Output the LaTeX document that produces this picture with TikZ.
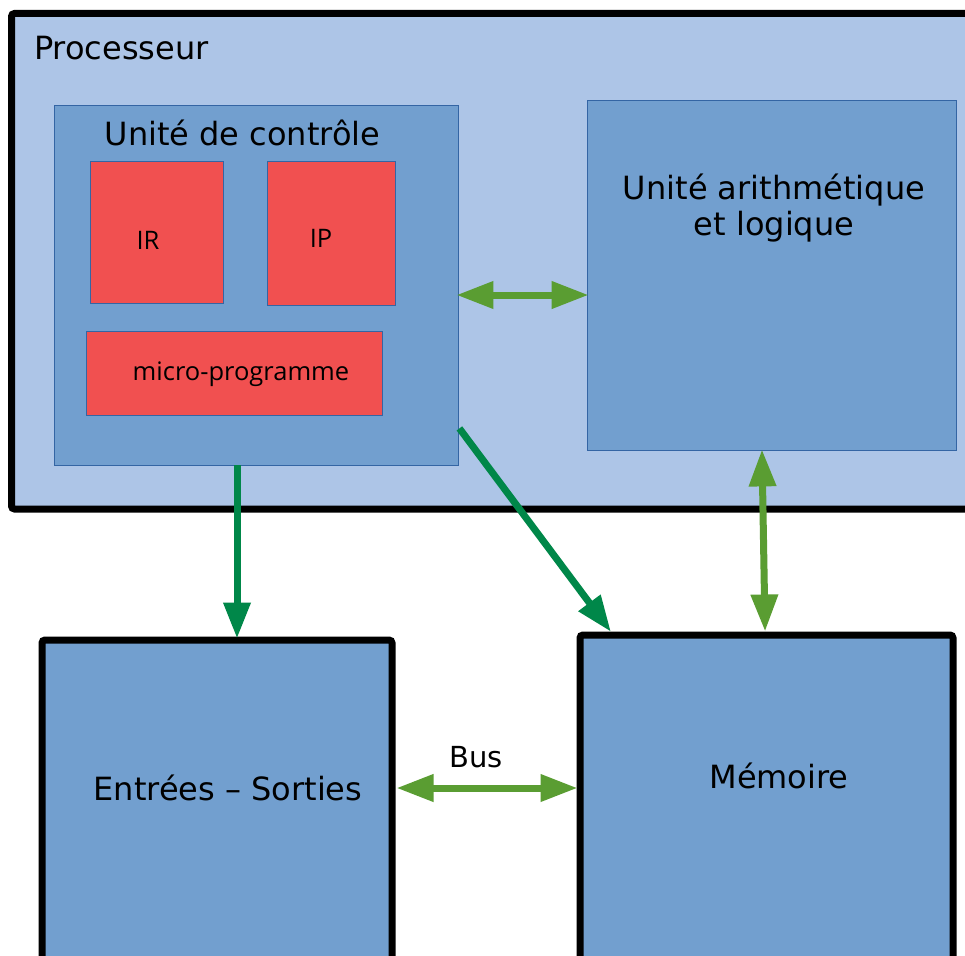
\documentclass[tikz,border=0pt]{standalone}
\usepackage{fontspec}
\setmainfont{DejaVu Sans}
\newfontfamily\regfont{Open Sans}
\usetikzlibrary{arrows.meta,calc}

\definecolor{procfill}{HTML}{ADC5E7}
\definecolor{unitfill}{HTML}{729FCF}
\definecolor{unitline}{HTML}{3465A4}
\definecolor{regfill}{HTML}{F15050}
\definecolor{busgreen}{HTML}{5A9D32}
\definecolor{ctrlgreen}{HTML}{008749}

\tikzset{
  bigbox/.style={draw=black, line width=7pt, fill=unitfill, rounded corners=3pt,
    rectangle, inner sep=0pt},
  unitbox/.style={draw=unitline, line width=0.8pt, fill=unitfill, rectangle, inner sep=0pt},
  regbox/.style={draw=unitline, line width=0.8pt, fill=regfill, rectangle, inner sep=0pt},
  bigtext/.style={font=\fontsize{32}{36}\selectfont, inner sep=0pt, anchor=base, align=center},
  regtext/.style={font=\regfont\fontsize{25.5}{28}\selectfont, inner sep=0pt, anchor=base},
  twoway/.style={draw=busgreen, line width=7pt, shorten <=-3pt, shorten >=-3pt,
    {Triangle[length=37pt,width=26pt]}-{Triangle[length=37pt,width=26pt]}},
  oneway/.style={draw=ctrlgreen, line width=7pt, shorten >=-4pt,
    -{Triangle[length=36pt,width=26pt]}}
}

\begin{document}
\begin{tikzpicture}[x=1pt,y=-1pt]
\useasboundingbox (0,0) rectangle (965,955);
\clip (0,0) rectangle (965,955);
\fill[white] (0,0) rectangle (965,955);

% processor frame
\node[bigbox, fill=procfill, minimum width=988.5pt, minimum height=495.5pt] (proc) at (505.75,261.25) {};
\node[bigtext, anchor=base west] (proclbl) at (34,60) {Processeur};

% control unit with its registers
\node[unitbox, minimum width=404pt, minimum height=360pt] (ctrl) at (256,285) {};
\node[bigtext] (ctrllbl) at (242.5,145) {Unité de contrôle};
\node[regbox, minimum width=133pt, minimum height=142pt] (ir) at (156.5,232) {};
\node[regtext] (irlbl) at (148,249) {IR};
\node[regbox, minimum width=128pt, minimum height=144pt] (ip) at (331,233) {};
\node[regtext] (iplbl) at (321,247) {IP};
\node[regbox, minimum width=296pt, minimum height=84pt] (micro) at (234,373) {};
\node[regtext] (microlbl) at (241,380.5) {micro-programme};

% arithmetic and logic unit
\node[unitbox, minimum width=369pt, minimum height=350pt] (alu) at (771.5,275) {};
\node[bigtext] (alulbl1) at (774,199) {Unité arithmétique};
\node[bigtext] (alulbl2) at (774,235) {et logique};

% input/output and memory
\node[bigbox, minimum width=350pt, minimum height=360pt] (es) at (217,820) {};
\node[bigtext] (eslbl) at (228,800.5) {Entrées – Sorties};
\node[bigbox, minimum width=373pt, minimum height=365pt] (mem) at (766.5,817.5) {};
\node[bigtext] (memlbl) at (779,788) {Mémoire};

% connectors
\draw[twoway] ([xshift=1pt,yshift=-10pt]ctrl.east) -- ([xshift=-1pt,yshift=-20pt]alu.west);
\draw[twoway] ([xshift=-9.5pt,yshift=-2pt]alu.south) -- ([xshift=-1.5pt,yshift=3pt]mem.north);
\draw[twoway] ([xshift=4pt,yshift=32pt]es.east) -- ([xshift=-2pt,yshift=29.5pt]mem.west);
\node[font=\fontsize{29}{32}\selectfont, inner sep=0pt, anchor=base] (buslbl) at (476,767) {Bus};
\draw[oneway] ([xshift=-19pt]ctrl.south) -- ([xshift=20pt,yshift=2pt]es.north);
\draw[oneway] ([xshift=1pt,yshift=37pt]ctrl.south east) -- ([xshift=32pt,yshift=3pt]mem.north west);
\end{tikzpicture}
\end{document}
